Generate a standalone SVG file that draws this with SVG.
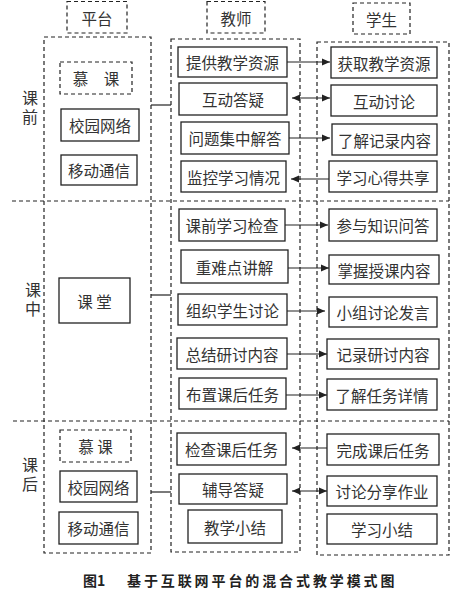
<svg xmlns="http://www.w3.org/2000/svg" width="460" height="590" viewBox="0 0 460 590">
<defs>
<style>
.dash{fill:none;stroke:#222;stroke-width:1.2;stroke-dasharray:4 3}
.box{fill:#fff;stroke:#222;stroke-width:1.3}
.t{font-family:"Noto Sans CJK SC","Noto Sans",sans-serif;font-size:15.5px;fill:#333;text-anchor:middle;dominant-baseline:central}
.side{font-family:"Noto Sans CJK SC","Noto Sans",sans-serif;font-size:16px;fill:#333;text-anchor:middle;writing-mode:vertical-rl;letter-spacing:3px}
.cap{font-family:"Noto Sans CJK SC","Noto Sans",sans-serif;font-size:14px;fill:#222;font-weight:bold}
.ln{stroke:#222;stroke-width:1.2;fill:none}
</style>
<marker id="ah" markerUnits="userSpaceOnUse" markerWidth="9" markerHeight="8" refX="8" refY="4" orient="auto-start-reverse">
<path d="M0,0.5 L8,4 L0,7.5 Z" fill="#222"/>
</marker>
</defs>
<rect width="460" height="590" fill="#fff"/>

<!-- columns and phase dividers -->
<g id="frame">
<rect class="dash" x="44" y="37" width="107" height="516"/>
<rect class="dash" x="171" y="39" width="129" height="513"/>
<rect class="dash" x="317" y="42" width="132" height="513"/>
<line class="dash" x1="12" y1="201" x2="449" y2="201"/>
<line class="dash" x1="13" y1="421" x2="449" y2="421"/>
</g>

<g id="hdr-platform"><rect class="dash" x="67" y="1.5" width="60" height="31.5"/><text class="t" x="97" y="17.5">平台</text></g>
<g id="hdr-teacher"><rect class="dash" x="207" y="1.5" width="58" height="31.5"/><text class="t" x="236" y="17.5">教师</text></g>
<g id="hdr-student"><rect class="dash" x="353" y="3" width="57" height="31"/><text class="t" x="381.5" y="18.5">学生</text></g>

<g id="phase-before"><text class="side" x="30" y="109">课前</text></g>
<g id="phase-during"><text class="side" x="33" y="301">课中</text></g>
<g id="phase-after"><text class="side" x="30" y="476">课后</text></g>

<!-- platform nodes -->
<g id="p1"><rect class="dash" x="60" y="62" width="72" height="32"/><text class="t" x="96" y="78">慕　课</text></g>
<g id="p2"><rect class="box" x="61" y="109" width="78" height="32"/><text class="t" x="100" y="125">校园网络</text></g>
<g id="p3"><rect class="box" x="61" y="155" width="76" height="30"/><text class="t" x="99" y="170">移动通信</text></g>
<g id="p4"><rect class="box" x="59" y="278" width="71" height="45"/><text class="t" x="94.5" y="300.5" xml:space="preserve">课 堂</text></g>
<g id="p5"><rect class="dash" x="60" y="430" width="71" height="32"/><text class="t" x="95.5" y="446" xml:space="preserve">慕 课</text></g>
<g id="p6"><rect class="box" x="60" y="471" width="77" height="31"/><text class="t" x="98.5" y="486.5">校园网络</text></g>
<g id="p7"><rect class="box" x="59" y="512" width="79" height="32"/><text class="t" x="98.5" y="528">移动通信</text></g>

<!-- teacher nodes -->
<g id="t1"><rect class="box" x="178" y="47" width="109" height="30"/><text class="t" x="232.5" y="62">提供教学资源</text></g>
<g id="t2"><rect class="box" x="179" y="83" width="108" height="32"/><text class="t" x="233" y="99">互动答疑</text></g>
<g id="t3"><rect class="box" x="181" y="122" width="108" height="32"/><text class="t" x="235" y="138">问题集中解答</text></g>
<g id="t4"><rect class="box" x="181" y="161" width="105" height="31"/><text class="t" x="233.5" y="176.5">监控学习情况</text></g>
<g id="t5"><rect class="box" x="179" y="209" width="106" height="32"/><text class="t" x="232" y="225">课前学习检查</text></g>
<g id="t6"><rect class="box" x="181" y="250" width="107" height="33"/><text class="t" x="234.5" y="266.5">重难点讲解</text></g>
<g id="t7"><rect class="box" x="178" y="294" width="109" height="31"/><text class="t" x="232.5" y="309.5">组织学生讨论</text></g>
<g id="t8"><rect class="box" x="177" y="338" width="110" height="31"/><text class="t" x="232" y="353.5">总结研讨内容</text></g>
<g id="t9"><rect class="box" x="179" y="378" width="107" height="31"/><text class="t" x="232.5" y="393.5">布置课后任务</text></g>
<g id="t10"><rect class="box" x="177" y="433" width="109" height="32"/><text class="t" x="231.5" y="449">检查课后任务</text></g>
<g id="t11"><rect class="box" x="179" y="474" width="108" height="30"/><text class="t" x="233" y="489">辅导答疑</text></g>
<g id="t12"><rect class="box" x="188" y="510" width="94" height="33"/><text class="t" x="235" y="526.5">教学小结</text></g>

<!-- student nodes -->
<g id="s1"><rect class="box" x="331" y="47" width="106" height="31"/><text class="t" x="384" y="62.5">获取教学资源</text></g>
<g id="s2"><rect class="box" x="331" y="85" width="106" height="31"/><text class="t" x="384" y="100.5">互动讨论</text></g>
<g id="s3"><rect class="box" x="332" y="124" width="105" height="31"/><text class="t" x="384.5" y="139.5">了解记录内容</text></g>
<g id="s4"><rect class="box" x="329" y="161" width="108" height="31"/><text class="t" x="383" y="176.5">学习心得共享</text></g>
<g id="s5"><rect class="box" x="329" y="209" width="108" height="32"/><text class="t" x="383" y="225">参与知识问答</text></g>
<g id="s6"><rect class="box" x="329" y="255" width="110" height="29"/><text class="t" x="384" y="269.5">掌握授课内容</text></g>
<g id="s7"><rect class="box" x="329" y="297" width="108" height="30"/><text class="t" x="383" y="312">小组讨论发言</text></g>
<g id="s8"><rect class="box" x="327" y="339" width="112" height="30"/><text class="t" x="383" y="354">记录研讨内容</text></g>
<g id="s9"><rect class="box" x="327" y="379" width="110" height="31"/><text class="t" x="382" y="394.5">了解任务详情</text></g>
<g id="s10"><rect class="box" x="327" y="434" width="112" height="31"/><text class="t" x="383" y="449.5">完成课后任务</text></g>
<g id="s11"><rect class="box" x="327" y="476" width="110" height="30"/><text class="t" x="382" y="491">讨论分享作业</text></g>
<g id="s12"><rect class="box" x="327" y="514" width="110" height="30"/><text class="t" x="382" y="529">学习小结</text></g>

<!-- connectors -->
<g id="connectors">
<line class="ln" x1="151" y1="105" x2="171" y2="105"/>
<line class="ln" x1="151" y1="295" x2="171" y2="295"/>
<line class="ln" x1="151" y1="492" x2="171" y2="492"/>
<line class="ln" x1="287" y1="62" x2="330" y2="62" marker-end="url(#ah)"/>
<line class="ln" x1="292" y1="98" x2="330" y2="98" marker-start="url(#ah)" marker-end="url(#ah)"/>
<line class="ln" x1="289" y1="138" x2="330" y2="138" marker-end="url(#ah)"/>
<line class="ln" x1="329" y1="179" x2="291" y2="179" marker-end="url(#ah)"/>
<line class="ln" x1="285" y1="225" x2="328" y2="225" marker-end="url(#ah)"/>
<line class="ln" x1="288" y1="268" x2="329" y2="268" marker-end="url(#ah)"/>
<line class="ln" x1="287" y1="311" x2="325" y2="311" marker-end="url(#ah)"/>
<line class="ln" x1="287" y1="354" x2="327" y2="354" marker-end="url(#ah)"/>
<line class="ln" x1="286" y1="395" x2="327" y2="395" marker-end="url(#ah)"/>
<line class="ln" x1="327" y1="448" x2="292" y2="448" marker-end="url(#ah)"/>
<line class="ln" x1="292" y1="491" x2="327" y2="491" marker-start="url(#ah)" marker-end="url(#ah)"/>
</g>

<g id="caption">
<text class="cap" y="586"><tspan x="83">图1</tspan><tspan x="127" letter-spacing="2.9">基于互联网平台的混合式教学模式图</tspan></text>
</g>
</svg>
